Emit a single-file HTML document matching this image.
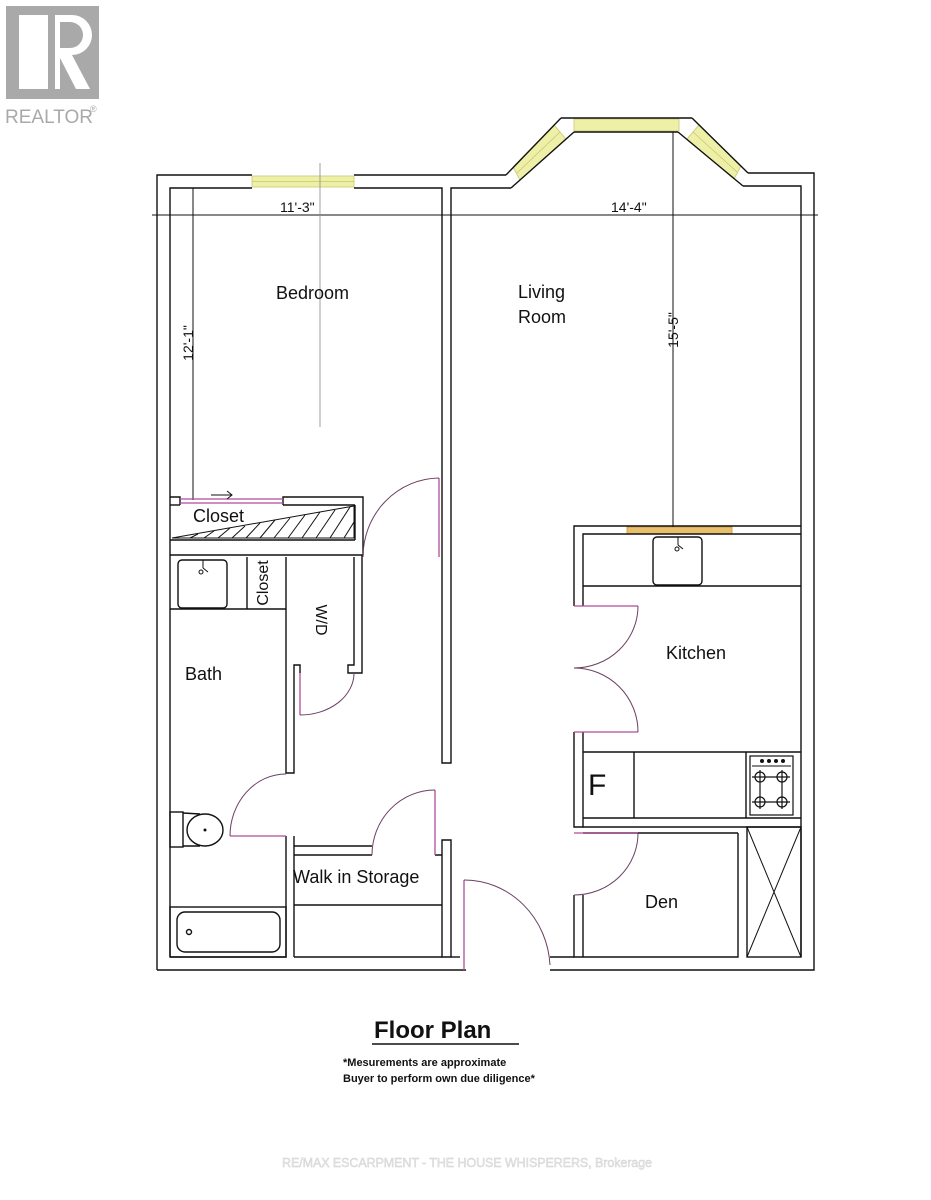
<!DOCTYPE html>
<html><head><meta charset="utf-8"><style>
html,body{margin:0;padding:0;background:#fff;}
svg{display:block;font-family:"Liberation Sans",Arial,sans-serif;}
</style></head><body>
<svg width="931" height="1200" viewBox="0 0 931 1200" xmlns="http://www.w3.org/2000/svg">
<rect width="931" height="1200" fill="#fff"/>
<!-- Realtor logo -->
<rect x="6" y="6" width="93" height="93" fill="#a9a9a9"/>
<rect x="19" y="15" width="29" height="74" fill="#fff"/>
<path d="M55 15 H72 A20 20 0 0 1 72 55 L90 89 H76 L60 58 V89 H55 Z" fill="#fff"/>
<path d="M60 22 H70 A13 13 0 0 1 70 48 H60 Z" fill="#a9a9a9"/>
<text x="5" y="123" font-size="19" fill="#a9a9a9">REALTOR</text>
<text x="90" y="112" font-size="9" fill="#a9a9a9">®</text>

<!-- windows -->
<rect x="252" y="176" width="102" height="11" fill="#eef0a8" stroke="#c8c870" stroke-width="0.8"/>
<line x1="252" y1="181.5" x2="354" y2="181.5" stroke="#c8c870" stroke-width="0.8"/>
<rect x="574" y="119" width="105" height="12" fill="#eef0a8" stroke="#c8c870" stroke-width="0.8"/>
<polygon points="513,167 554,125 566,139 520,180" fill="#eef0a8" stroke="#c8c870" stroke-width="0.8"/>
<polygon points="699,125 741,166 734,179 687,139" fill="#eef0a8" stroke="#c8c870" stroke-width="0.8"/>
<line x1="517" y1="173" x2="560" y2="132" stroke="#c8c870" stroke-width="0.8"/>
<line x1="693" y1="132" x2="737" y2="172" stroke="#c8c870" stroke-width="0.8"/>
<rect x="627" y="527" width="105" height="7" fill="#e8bf6a" stroke="#c9973a" stroke-width="0.8"/>

<g fill="none" stroke="#111" stroke-width="1.4">
<!-- outer wall -->
<polyline points="157,970 157,175 252,175"/>
<line x1="354" y1="175" x2="506" y2="175"/>
<polyline points="748,173 814,173 814,970 550,970"/>
<polyline points="466,970 157,970"/>
<!-- inner top -->
<polyline points="170,957 170,188 252,188"/>
<polyline points="354,188 442,188 442,763 451,763 451,188 511,188"/>
<polyline points="743,186 801,186 801,957"/>
<!-- bay -->
<line x1="506" y1="175" x2="561" y2="118"/>
<line x1="511" y1="188" x2="574" y2="132"/>
<line x1="561" y1="118" x2="692" y2="118"/>
<line x1="574" y1="132" x2="678" y2="132"/>
<line x1="692" y1="118" x2="748" y2="173"/>
<line x1="678" y1="132" x2="743" y2="186"/>
<!-- dims -->
<line x1="152" y1="215" x2="818" y2="215" stroke-width="1"/>
<line x1="193" y1="188" x2="193" y2="500" stroke-width="1"/>
<line x1="673" y1="132" x2="673" y2="527" stroke-width="1"/>
<line x1="320" y1="163" x2="320" y2="427" stroke="#888" stroke-width="0.8"/>
<!-- closet block -->
<polyline points="170,497 180,497 180,505"/>
<polyline points="283,505 283,497 363,497 363,555"/>
<line x1="180" y1="505" x2="170" y2="505"/>
<line x1="170" y1="540" x2="355" y2="540"/>
<line x1="355" y1="505" x2="355" y2="540"/>
<line x1="170" y1="555" x2="363" y2="555"/>
<line x1="283" y1="505" x2="355" y2="505"/>
<polygon points="172,538 354,506 354,538" stroke-width="1"/>
<!-- bath walls -->
<polyline points="286,557 286,773 294,773 294,665 300,665 300,673"/>
<polyline points="286,836 286,957 170,957"/>
<polyline points="294,957 294,846 372,846"/>
<line x1="294" y1="855" x2="372" y2="855"/>
<polyline points="354,557 354,665 348,665 348,673 362,673 362,555"/>
<line x1="294" y1="836" x2="294" y2="846"/>
<line x1="170" y1="609" x2="286" y2="609"/>
<line x1="247" y1="557" x2="247" y2="609"/>
<rect x="178" y="560" width="49" height="48" rx="4"/>
<line x1="294" y1="905" x2="442" y2="905"/>
<polyline points="435,855 442,855 442,957 451,957 451,840 442,840 442,855"/>
<polyline points="460,957 451,957"/>
<line x1="294" y1="957" x2="442" y2="957"/>
<!-- tub -->
<rect x="170" y="907" width="116" height="50"/>
<rect x="177" y="912" width="103" height="40" rx="8"/>
<circle cx="189" cy="932" r="2.5"/>
<!-- toilet -->
<rect x="170" y="812" width="13" height="35"/>
<path d="M183 813 L200 814 M183 846 L200 846"/>
<ellipse cx="205" cy="830" rx="18" ry="16"/>
<!-- kitchen -->
<polyline points="574,606 574,526 801,526"/>
<polyline points="583,606 583,534 801,534"/>
<line x1="583" y1="586" x2="801" y2="586"/>
<rect x="653" y="537" width="49" height="48" rx="4"/>
<polyline points="574,732 574,827 583,827 583,732"/>
<line x1="583" y1="752" x2="801" y2="752"/>
<line x1="583" y1="818" x2="801" y2="818"/>
<line x1="634" y1="752" x2="634" y2="818"/>
<line x1="746" y1="752" x2="746" y2="818"/>
<rect x="750" y="756" width="43" height="59" stroke-width="1.2"/>
<line x1="752" y1="766" x2="791" y2="766" stroke-width="1"/>
<!-- den -->
<line x1="583" y1="827" x2="801" y2="827"/>
<line x1="583" y1="833" x2="738" y2="833"/>
<polyline points="574,895 574,957 738,957 738,833"/>
<line x1="583" y1="895" x2="583" y2="957"/>
<rect x="747" y="827" width="54" height="130"/>
<line x1="747" y1="827" x2="801" y2="957" stroke-width="1"/>
<line x1="801" y1="827" x2="747" y2="957" stroke-width="1"/>
<line x1="550" y1="957" x2="574" y2="957"/>
</g>
<!-- hatch lines -->
<g stroke="#111" stroke-width="1">
<line x1="190" y1="538" x2="198" y2="534"/><line x1="204" y1="538" x2="214" y2="531"/>
<line x1="218" y1="538" x2="230" y2="528"/><line x1="232" y1="538" x2="245" y2="526"/>
<line x1="246" y1="538" x2="260" y2="523"/><line x1="260" y1="538" x2="275" y2="520"/>
<line x1="274" y1="538" x2="290" y2="518"/><line x1="288" y1="538" x2="305" y2="515"/>
<line x1="302" y1="538" x2="320" y2="512"/><line x1="316" y1="538" x2="335" y2="510"/>
<line x1="330" y1="538" x2="350" y2="507"/><line x1="344" y1="538" x2="354" y2="522"/>
</g>
<!-- burners -->
<g stroke="#111" stroke-width="1.2" fill="none">
<circle cx="760" cy="777" r="5"/><circle cx="782" cy="777" r="5"/>
<circle cx="760" cy="802" r="5"/><circle cx="782" cy="802" r="5"/>
<line x1="752" y1="777" x2="790" y2="777"/><line x1="752" y1="802" x2="790" y2="802"/>
<line x1="760" y1="770" x2="760" y2="809"/><line x1="782" y1="770" x2="782" y2="809"/>
</g>
<g fill="#111"><circle cx="762" cy="761" r="2"/><circle cx="769" cy="761" r="2"/><circle cx="776" cy="761" r="2"/><circle cx="783" cy="761" r="2"/></g>
<circle cx="205" cy="830" r="1.5" fill="#111"/>
<!-- faucets -->
<g stroke="#111" stroke-width="1" fill="none">
<line x1="203" y1="560" x2="203" y2="568"/><circle cx="201" cy="572" r="2"/><line x1="203" y1="568" x2="208" y2="572"/>
<line x1="678" y1="537" x2="678" y2="545"/><circle cx="677" cy="549" r="2"/><line x1="678" y1="545" x2="683" y2="549"/>
</g>
<!-- pink doors -->
<g fill="none" stroke="#b04a9a" stroke-width="1.3">
<line x1="180" y1="499" x2="283" y2="499"/><line x1="180" y1="503" x2="283" y2="503"/>
<line x1="439" y1="478" x2="439" y2="557"/>
<line x1="300" y1="673" x2="300" y2="715"/>
<line x1="230" y1="836" x2="286" y2="836"/>
<line x1="435" y1="790" x2="435" y2="855"/>
<line x1="464" y1="880" x2="464" y2="970"/>
<line x1="574" y1="606" x2="638" y2="606"/>
<line x1="574" y1="732" x2="638" y2="732"/>
<line x1="574" y1="833" x2="638" y2="833"/>
</g>
<g fill="none" stroke="#6a3f60" stroke-width="1">
<path d="M363 557 A77 79 0 0 1 439 478"/>
<path d="M300 715 A54 42 0 0 0 354 673"/>
<path d="M230 836 A56 62 0 0 1 286 774"/>
<path d="M372 855 A63 65 0 0 1 435 790"/>
<path d="M464 880 A86 90 0 0 1 550 965"/>
<path d="M638 606 A64 62 0 0 1 574 668"/>
<path d="M574 668 A64 64 0 0 1 638 732"/>
<path d="M638 833 A64 62 0 0 1 574 895"/>
</g>
<path d="M211 495 H232 M227 491 L232 495 L227 499" stroke="#111" fill="none" stroke-width="1"/>

<!-- labels -->
<g fill="#111" font-size="18">
<text x="276" y="299">Bedroom</text>
<text x="518" y="298">Living</text>
<text x="518" y="323">Room</text>
<text x="666" y="659">Kitchen</text>
<text x="185" y="680">Bath</text>
<text x="293" y="883">Walk in Storage</text>
<text x="645" y="908">Den</text>
<text x="193" y="522">Closet</text>
<text x="588" y="795" font-size="30">F</text>
</g>
<g fill="#111" font-size="14">
<text x="280" y="212">11'-3"</text>
<text x="611" y="212">14'-4"</text>
<text transform="translate(193,343) rotate(-90)" text-anchor="middle">12'-1"</text>
<text transform="translate(678,330) rotate(-90)" text-anchor="middle">15'-5"</text>
<text transform="translate(268,583) rotate(-90)" text-anchor="middle" font-size="16">Closet</text>
<text transform="translate(316,620) rotate(90)" text-anchor="middle" font-size="16">W/D</text>
</g>
<text x="374" y="1038" font-size="24" font-weight="bold" fill="#111">Floor Plan</text>
<line x1="372" y1="1044" x2="519" y2="1044" stroke="#111" stroke-width="1.5"/>
<text x="343" y="1066" font-size="11" font-weight="bold" fill="#111">*Mesurements are approximate</text>
<text x="343" y="1082" font-size="11" font-weight="bold" fill="#111">Buyer to perform own due diligence*</text>
<text x="282" y="1167" font-size="12.5" fill="#e6e6e6" stroke="#cfcfcf" stroke-width="0.4" textLength="370">RE/MAX ESCARPMENT - THE HOUSE WHISPERERS, Brokerage</text>
</svg>
</body></html>
